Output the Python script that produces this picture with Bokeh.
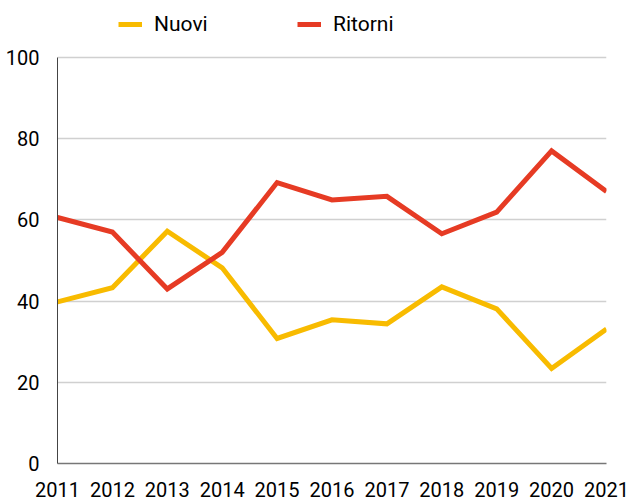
from bokeh.plotting import figure
from bokeh.models import Range1d, Legend, LegendItem, FixedTicker
from bokeh.embed import file_html
from bokeh.resources import INLINE

years = [2011, 2012, 2013, 2014, 2015, 2016, 2017, 2018, 2019, 2020, 2021]
nuovi = [39.8, 43.3, 57.2, 48.2, 30.8, 35.4, 34.4, 43.5, 38.1, 23.4, 33.1]
ritorni = [60.6, 57.0, 43.0, 52.0, 69.2, 64.9, 65.8, 56.6, 61.9, 77.0, 67.0]
y_ticks = [0, 20, 40, 60, 80, 100]

YELLOW = "#F8BB00"
RED = "#E63B24"
FONT = "Roboto"

# frame spans the full height above the x axis so the legend can sit inside it;
# the value 100 lands on the same line as in the reference
Y_TOP = 100 * 463 / 406

p = figure(width=630, height=503, output_backend="svg", toolbar_location=None,
           x_range=Range1d(2011, 2021), y_range=Range1d(0, Y_TOP),
           min_border_left=57, min_border_right=24, min_border_top=0, min_border_bottom=40)
p.outline_line_color = None
p.background_fill_color = "white"
p.border_fill_color = "white"

r1 = p.line(years, nuovi, line_color=YELLOW, line_width=5, line_join="miter")
r2 = p.line(years, ritorni, line_color=RED, line_width=5, line_join="miter")

p.xaxis.ticker = FixedTicker(ticks=years)
p.yaxis.ticker = FixedTicker(ticks=y_ticks)
p.yaxis.bounds = (0, 100)
p.xgrid.grid_line_color = None
p.ygrid.grid_line_color = "#d0d0d0"
p.ygrid.grid_line_width = 1.5

for ax in (p.xaxis[0], p.yaxis[0]):
    ax.major_tick_line_color = None
    ax.minor_tick_line_color = None
    ax.major_label_text_font = FONT
    ax.major_label_text_font_size = "20px"
    ax.major_label_text_color = "#000000"
p.xaxis.axis_line_color = "#777777"
p.xaxis.axis_line_width = 1.5
p.yaxis.axis_line_color = "#444444"
p.yaxis.axis_line_width = 1
p.xaxis.major_label_standoff = 12
p.yaxis.major_label_standoff = 12

legend = Legend(items=[LegendItem(label="Nuovi", renderers=[r1]),
                       LegendItem(label="Ritorni", renderers=[r2])],
                orientation="horizontal", location=(61, 427),
                glyph_width=24, glyph_height=20, label_standoff=12,
                label_width=143, spacing=0, padding=0, margin=0,
                border_line_color=None, background_fill_alpha=0,
                label_text_font=FONT, label_text_font_size="21px",
                label_text_color="#000000")
p.add_layout(legend, "center")

open("out.html", "w").write(file_html(p, INLINE))
